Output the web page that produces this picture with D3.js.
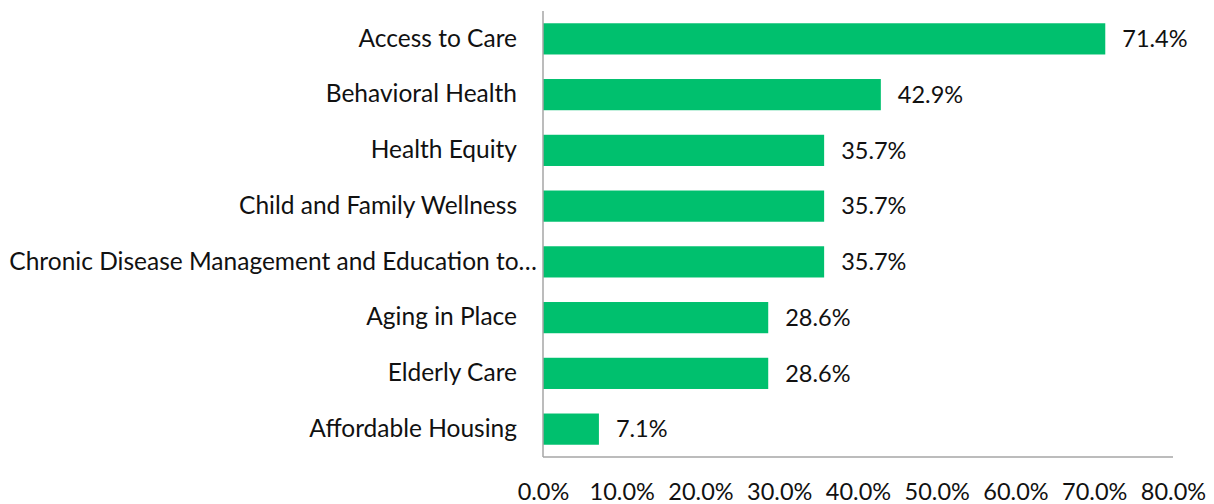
<!DOCTYPE html>
<html>
<head>
<meta charset="utf-8">
<script src="https://cdn.jsdelivr.net/npm/d3@7"></script>
<style>
  body { margin: 0; background: #fff; }
  text { font-family: Lato, "Open Sans", sans-serif; fill: #111; }
</style>
</head>
<body>
<div id="chart"></div>
<script>
var categories = ["Access to Care", "Behavioral Health", "Health Equity", "Child and Family Wellness",
  "Chronic Disease Management and Education to\u2026", "Aging in Place", "Elderly Care", "Affordable Housing"];
var values = [71.4, 42.9, 35.7, 35.7, 35.7, 28.6, 28.6, 7.1];
var tickValues = [0, 10, 20, 30, 40, 50, 60, 70, 80];

var width = 1214, height = 504;
var mLeft = 543, mRight = 1173, mTop = 11, mBottom = 457;
var fontSize = "23.5px";
var catFontSize = "24.5px";

var svg = d3.select("#chart").append("svg")
  .attr("width", width)
  .attr("height", height);

var x = d3.scaleLinear().domain([0, 80]).range([mLeft, mRight]);
var y = d3.scaleBand().domain(categories).range([mTop, mBottom]).paddingInner(0.44).paddingOuter(0.22);

// bars
svg.selectAll("rect.bar")
  .data(values)
  .enter().append("rect")
  .attr("class", "bar")
  .attr("x", x(0))
  .attr("y", function(d, i) { return y(categories[i]); })
  .attr("width", function(d) { return x(d) - x(0); })
  .attr("height", y.bandwidth())
  .attr("fill", "#00c06e");

// value labels
svg.selectAll("text.val")
  .data(values)
  .enter().append("text")
  .attr("class", "val")
  .attr("x", function(d) { return x(d) + 17; })
  .attr("y", function(d, i) { return y(categories[i]) + y.bandwidth() / 2; })
  .attr("dy", "0.35em")
  .attr("font-size", fontSize)
  .text(function(d) { return d.toFixed(1) + "%"; });

// category axis
var yAxis = svg.append("g")
  .attr("transform", "translate(" + mLeft + ",0)")
  .call(d3.axisLeft(y).tickSize(0).tickPadding(26));
yAxis.select(".domain").remove();
yAxis.selectAll("text").attr("font-size", catFontSize).attr("fill", "#111")
  .style("font-family", "Lato, 'Open Sans', sans-serif")
  // the truncated label runs closer to the axis, as in Excel
  .attr("dx", function(d) { return d.indexOf("\u2026") >= 0 ? 20 : 0; });

// axis lines
svg.append("line")
  .attr("x1", mLeft).attr("x2", mLeft).attr("y1", mTop).attr("y2", mBottom)
  .attr("stroke", "#a6a6a6").attr("stroke-width", 1.5);
svg.append("line")
  .attr("x1", mLeft).attr("x2", mRight).attr("y1", mBottom).attr("y2", mBottom)
  .attr("stroke", "#a6a6a6").attr("stroke-width", 1.5);

// value axis ticks
var xAxis = svg.append("g")
  .attr("transform", "translate(0," + mBottom + ")")
  .call(d3.axisBottom(x).tickValues(tickValues).tickSize(0).tickPadding(26)
    .tickFormat(function(d) { return d.toFixed(1) + "%"; }));
xAxis.select(".domain").remove();
xAxis.selectAll("text").attr("font-size", fontSize).attr("fill", "#111")
  .style("font-family", "Lato, 'Open Sans', sans-serif");
</script>
</body>
</html>
